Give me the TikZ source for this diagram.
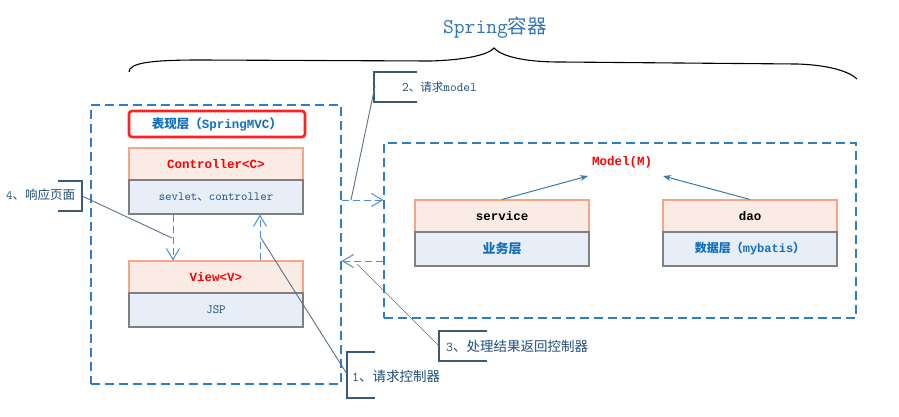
\documentclass[tikz,border=0pt]{standalone}
\usepackage{fontspec}
\setmainfont{Liberation Mono}
\newfontfamily\cjk{Noto Sans CJK SC}
\usetikzlibrary{arrows.meta}
\definecolor{dashblue}{HTML}{2E7EC6}
\definecolor{arrblue}{HTML}{4A8FD4}
\definecolor{headfill}{HTML}{FBEBE5}
\definecolor{headline}{HTML}{F4A585}
\definecolor{bodyfill}{HTML}{E7EEF8}
\definecolor{bodyline}{HTML}{808080}
\definecolor{titleblue}{HTML}{2E74B5}
\definecolor{textblue}{HTML}{1F4E79}
\definecolor{boldblue}{HTML}{0F6FBF}
\definecolor{calloutline}{HTML}{3D5A73}
\definecolor{leadergray}{HTML}{5B7089}
\definecolor{modelarrow}{HTML}{3A78B0}
\definecolor{redline}{HTML}{FF2020}
\begin{document}
\begin{tikzpicture}[x=1pt,y=-1pt,
  headbox/.style={draw=headline, fill=headfill, line width=1.1pt, minimum width=174pt, minimum height=32pt, inner sep=0pt, font=\fontsize{12.5}{15}\selectfont\bfseries},
  bodybox/.style={draw=bodyline, fill=bodyfill, line width=1.1pt, minimum width=174pt, minimum height=34pt, inner sep=0pt, text=textblue, font=\fontsize{12.5}{15}\selectfont\ttfamily},
  dashbox/.style={draw=dashblue, line width=1.1pt, dash pattern=on 9pt off 5pt, inner sep=0pt},
  dasharrow/.style={draw=arrblue, line width=1pt, dash pattern=on 7pt off 4pt, -{Straight Barb[length=11pt,width=13pt,line width=1pt]}},
  modelarr/.style={draw=modelarrow, line width=1pt, -{Stealth[length=8pt,width=6pt]}},
  calloutbox/.style={draw=calloutline, line width=1.1pt},
  leader/.style={draw=leadergray, line width=0.9pt},
  callouttext/.style={anchor=west, inner sep=0pt, text=textblue}
]
\useasboundingbox (0,0) rectangle (899,417);

% title and brace
\node[text=titleblue, font=\fontsize{21}{25}\selectfont\ttfamily] (title) at (495,28) {Spring{\cjk\fontsize{19.5}{23}\selectfont 容器}};
\draw[line width=1.1pt, black] (129,72) .. controls (129,63) and (150,60) .. (200,60)
  -- (430,61) .. controls (465,60) and (488,55) .. (494,48)
  .. controls (500,55) and (520,62) .. (560,62) -- (797,64)
  .. controls (830,65) and (850,72) .. (857,79);

% dashed containers
\node[dashbox, minimum width=250pt, minimum height=279pt] (pres) at (216,244.5) {};
\node[dashbox, minimum width=472pt, minimum height=175pt] (model) at (620,230.5) {};

% presentation layer label
\node[draw=redline, line width=2.6pt, rounded corners=3pt, minimum width=176pt, minimum height=26pt, inner sep=0pt, text=boldblue, font=\fontsize{12.5}{15}\selectfont\bfseries] (layer) at (217,124) {{\cjk\bfseries 表现层（}SpringMVC{\cjk\bfseries ）}};

% controller and view
\node[headbox, text=red] (ctrl) at (216,164) {Controller<C>};
\node[bodybox] (ctrlb) at (216,197) {sevlet{\cjk\fontsize{11.5}{14}\selectfont 、}controller};
\node[headbox, text=red] (view) at (216,277) {View<V>};
\node[bodybox] (viewb) at (216,310) {JSP};

\draw[dasharrow] ([xshift=-43pt]ctrlb.south) -- ([xshift=-43pt]view.north);
\draw[dasharrow] ([xshift=44pt]view.north) -- ([xshift=44pt]ctrlb.south);

% model side
\node[text=red, font=\fontsize{12.5}{15}\selectfont\bfseries] (mtxt) at (622,162) {Model(M)};
\node[headbox, text=black] (svc) at (502,216) {service};
\node[bodybox, text=boldblue, font=\fontsize{13}{15}\selectfont\bfseries] (svcb) at (502,249) {{\cjk\bfseries 业务层}};
\node[headbox, text=black] (dao) at (750,216) {dao};
\node[bodybox, text=boldblue, font=\fontsize{12}{15}\selectfont\bfseries] (daob) at (750,249) {{\cjk\bfseries 数据层（}mybatis{\cjk\bfseries ）}};

\coordinate (mA) at (588,176);
\coordinate (mB) at (663,176);
\draw[modelarr] (svc.north) -- (mA);
\draw[modelarr] (dao.north) -- (mB);

% arrows between containers
\coordinate (r1) at (360,200);
\coordinate (r2) at (360,261);
\draw[dasharrow] (pres.east |- r1) -- (model.west |- r1);
\draw[dasharrow] (model.west |- r2) -- (pres.east |- r2);

% callout 4
\draw[calloutbox] (58,181) -- (82,181) -- (82,211) -- (58,211);
\node[callouttext, font=\fontsize{12.5}{15}\selectfont] (c4) at (6,195) {{\ttfamily 4}{\cjk 、响应页面}};
\coordinate (c4a) at (82,196);
\coordinate (c4b) at (172,238);
\draw[leader] (c4a) -- (c4b);

% callout 1
\draw[calloutbox] (375,352) -- (347,352) -- (347,398) -- (375,398);
\node[callouttext, font=\fontsize{13.5}{16}\selectfont] (c1) at (352,376) {{\ttfamily 1}{\cjk 、请求控制器}};
\coordinate (c1a) at (347,374);
\coordinate (c1b) at (261,238);
\draw[leader] (c1a) -- (c1b);

% callout 3
\draw[calloutbox] (487,331) -- (439,331) -- (439,361) -- (487,361);
\node[callouttext, font=\fontsize{13.5}{16}\selectfont] (c3) at (446,346) {{\ttfamily 3}{\cjk 、处理结果返回控制器}};
\coordinate (c3a) at (439,346);
\coordinate (c3b) at (357,264);
\draw[leader, line width=0.7pt] (c3a) -- (c3b);

% callout 2
\draw[calloutbox] (417,72) -- (374,72) -- (374,102) -- (417,102);
\node[callouttext, font=\fontsize{13}{15}\selectfont\ttfamily] (c2) at (402,87) {2{\cjk\fontsize{11.5}{14}\selectfont 、请求}model};
\coordinate (c2a) at (375,86);
\coordinate (c2b) at (351,200);
\draw[leader] (c2a) -- (c2b);
\end{tikzpicture}
\end{document}
